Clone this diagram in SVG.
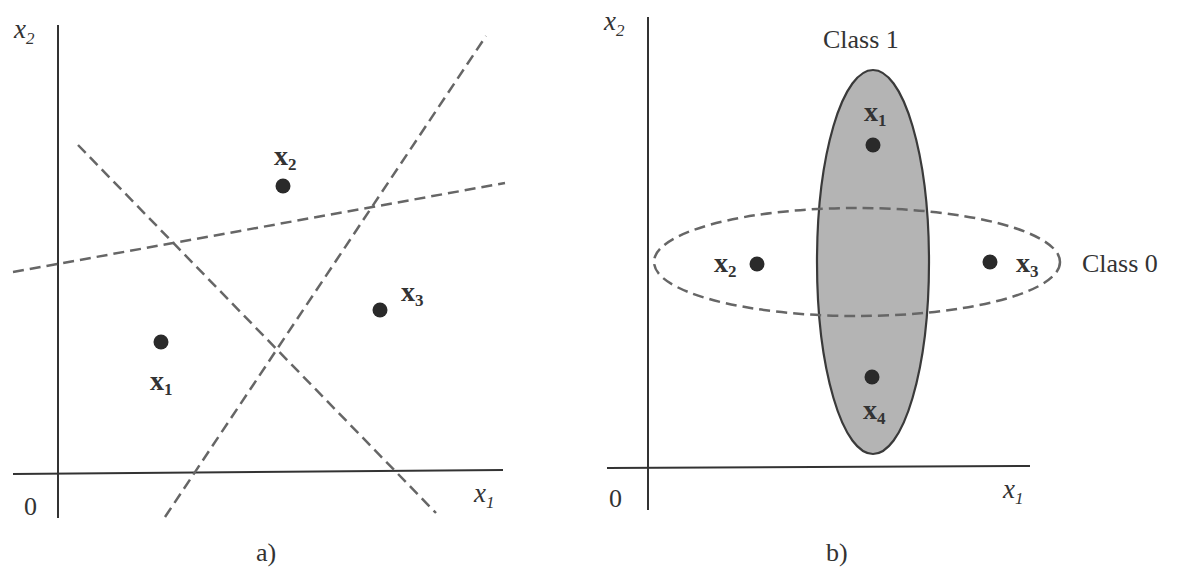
<svg xmlns="http://www.w3.org/2000/svg" width="1185" height="586" viewBox="0 0 1185 586">
<style>
.axis{stroke:#333;stroke-width:2;fill:none}
.dash{stroke:#666;stroke-width:2.5;stroke-dasharray:11 6;fill:none}
.pt{fill:#2a2a2a}
.t{font-family:"Liberation Serif",serif;fill:#333}
.ax{font-style:italic;font-size:27px}
.b{font-weight:bold;font-size:28px}
.s{font-size:17px}
.n{font-size:26px}
</style>
<rect width="1185" height="586" fill="#fff"/>
<g id="panel-a">
  <g id="axes-a">
    <line class="axis" x1="58" y1="25" x2="58" y2="518"/>
    <line class="axis" x1="13" y1="474" x2="503" y2="470"/>
    <text class="t n" x="24" y="515">0</text>
    <text class="t ax" x="474" y="502">x<tspan class="s" dy="6">1</tspan></text>
    <text class="t ax" x="14" y="38">x<tspan class="s" dy="6">2</tspan></text>
  </g>
  <g id="connectors-a">
    <line class="dash" x1="78" y1="145" x2="436" y2="513"/>
    <line class="dash" x1="165" y1="517" x2="486" y2="36"/>
    <line class="dash" x1="13" y1="272" x2="505" y2="183"/>
  </g>
  <g id="a-x1"><circle class="pt" cx="161" cy="342" r="7.5"/><text class="t b" x="150" y="390">x<tspan class="s" dy="5">1</tspan></text></g>
  <g id="a-x2"><circle class="pt" cx="283" cy="186" r="7.5"/><text class="t b" x="274" y="165">x<tspan class="s" dy="5">2</tspan></text></g>
  <g id="a-x3"><circle class="pt" cx="380" cy="310" r="7.5"/><text class="t b" x="401" y="301">x<tspan class="s" dy="5">3</tspan></text></g>
  <text class="t n" x="256" y="561">a)</text>
</g>
<g id="panel-b">
  <g id="axes-b">
    <line class="axis" x1="648" y1="17" x2="648" y2="510"/>
    <line class="axis" x1="607" y1="468" x2="1030" y2="466"/>
    <text class="t n" x="609" y="507">0</text>
    <text class="t ax" x="1003" y="498">x<tspan class="s" dy="6">1</tspan></text>
    <text class="t ax" x="604" y="30">x<tspan class="s" dy="6">2</tspan></text>
  </g>
  <g id="class1">
    <ellipse cx="873" cy="262" rx="56" ry="192" fill="#b4b4b4" stroke="#3a3a3a" stroke-width="2.2"/>
    <text class="t n" x="823" y="48">Class 1</text>
  </g>
  <g id="connectors-b">
    <ellipse class="dash" cx="857" cy="262" rx="203" ry="54"/>
  </g>
  <g id="class0"><text class="t n" x="1082" y="272">Class 0</text></g>
  <g id="b-x1"><circle class="pt" cx="873" cy="145" r="7.5"/><text class="t b" x="864" y="121">x<tspan class="s" dy="5">1</tspan></text></g>
  <g id="b-x2"><circle class="pt" cx="757" cy="264" r="7.5"/><text class="t b" x="714" y="272">x<tspan class="s" dy="5">2</tspan></text></g>
  <g id="b-x3"><circle class="pt" cx="990" cy="262" r="7.5"/><text class="t b" x="1016" y="272">x<tspan class="s" dy="5">3</tspan></text></g>
  <g id="b-x4"><circle class="pt" cx="872" cy="377" r="7.5"/><text class="t b" x="863" y="419">x<tspan class="s" dy="5">4</tspan></text></g>
  <text class="t n" x="826" y="561">b)</text>
</g>
</svg>
